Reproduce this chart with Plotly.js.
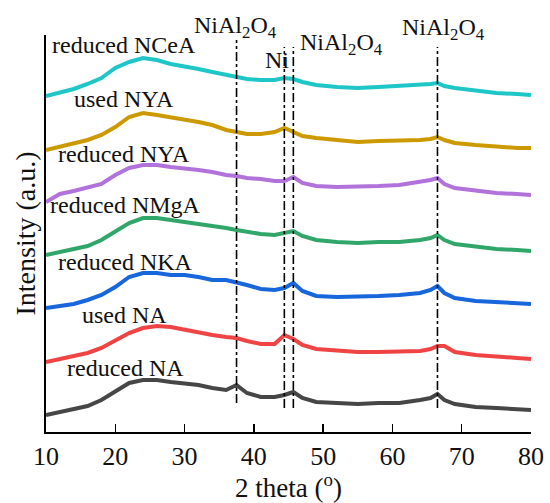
<!DOCTYPE html>
<html>
<head>
<meta charset="utf-8">
<script src="https://cdn.plot.ly/plotly-3.0.1.min.js"></script>
<style>html,body{margin:0;padding:0;background:#fff;}#chart{width:550px;height:503px;}</style>
</head>
<body>
<div id="chart"></div>
<script>
// 2 theta (degrees)
var twoTheta = [10,12,14,16,18,20,22,24,26,28,30,32,34,36,37.5,39,41,43,44.4,45.7,47,49,52,55,58,61,64,65.5,66.5,67.5,69,72,75,78,80];

// Stacked intensities (a.u.)
var reducedNCeA = [336,339,343,348,354,364,370,374,372,368,366,363,360,357,355,353,352,352,354,353,350,347,345,344,345,346,348,348,349,346,344,341,339,338,337];
var usedNYA     = [282,285,288,292,297,305,315,319,317,315,312,310,307,302,300,298,298,300,304,300,296,294,292,290,291,291,292,293,295,292,289,287,285,284,284];
var reducedNYA  = [230,238,241,244,248,257,264,267,267,265,264,262,260,257,256,254,253,251,251,255,249,246,245,245,246,247,250,252,254,248,244,241,239,238,237];
var reducedNMgA = [177,180,183,186,192,200,209,214,214,212,210,209,207,204,202,200,198,197,199,201,196,192,190,189,190,190,192,194,197,192,188,185,183,182,181];
var reducedNKA  = [124,126,128,132,137,145,155,159,159,157,157,155,152,152,150,147,143,142,144,149,141,136,135,135,136,137,139,142,146,139,134,131,130,129,128];
var usedNA      = [70,73,76,79,84,92,99,104,106,105,102,100,97,95,94,91,88,88,97,93,87,83,81,80,80,80,81,83,86,86,80,77,75,74,73];
var reducedNA   = [17,20,23,26,32,40,49,52,52,50,49,47,44,42,47,39,35,35,37,40,34,30,29,28,29,29,32,34,38,32,28,25,24,23,22];

var seriesNames = ["reduced NCeA","used NYA","reduced NYA","reduced NMgA","reduced NKA","used NA","reduced NA"];
var seriesData = [reducedNCeA, usedNYA, reducedNYA, reducedNMgA, reducedNKA, usedNA, reducedNA];
var seriesColors = ["#1fc6c8","#cc9a00","#b172dc","#30a66a","#1766dc","#f04444","#464646"];

// Reference peak positions (2 theta)
var peakPos = [37.5, 44.4, 45.7, 66.5];
var peakLabels = ["NiAl<sub>2</sub>O<sub>4</sub>","Ni","NiAl<sub>2</sub>O<sub>4</sub>","NiAl<sub>2</sub>O<sub>4</sub>"];
var xTicks = [10,20,30,40,50,60,70,80];

var FONT = "Liberation Serif";
var YMAX = 397;

var traces = seriesData.map(function(d, i){
  return {x: twoTheta, y: d, type: "scatter", mode: "lines", name: seriesNames[i],
          line: {color: seriesColors[i], width: 4}, hoverinfo: "skip"};
});

var labelPos = [[21.3,387],[21.2,333],[21.3,278],[21.5,227],[21.5,170],[21.4,117],[21.5,64]];
var annotations = seriesNames.map(function(n, i){
  return {x: labelPos[i][0], y: labelPos[i][1] / YMAX, xref: "x", yref: "paper", text: n, showarrow: false,
          xanchor: "center", yanchor: "middle", font: {family: FONT, size: 24, color: "#111"}};
});
var peakLabelPos = [[37.4,405],[43.3,372],[52.6,388],[67.3,403]];
peakLabels.forEach(function(t, i){
  annotations.push({x: peakLabelPos[i][0], y: peakLabelPos[i][1] / YMAX, xref: "x", yref: "paper", text: t, showarrow: false,
          xanchor: "center", yanchor: "middle", font: {family: FONT, size: 24, color: "#111"}});
});

var lineSpans = [[29,392],[24,385],[24,385],[24,385]];
var shapes = peakPos.map(function(p, i){
  return {type: "line", xref: "x", yref: "y", x0: p, x1: p, y0: lineSpans[i][0], y1: lineSpans[i][1],
          line: {color: "#000", width: 1.6, dash: "dashdot"}};
});

var layout = {
  width: 550, height: 503,
  margin: {l: 46, r: 19, t: 35, b: 71},
  paper_bgcolor: "#fff", plot_bgcolor: "#fff",
  showlegend: false,
  font: {family: FONT, color: "#111"},
  xaxis: {
    range: [10, 80], tickvals: xTicks, ticktext: xTicks.map(String),
    ticks: "inside", ticklen: 8, tickwidth: 1.5, tickcolor: "#000",
    showline: true, linecolor: "#000", linewidth: 1.8, mirror: false,
    showgrid: false, zeroline: false,
    tickfont: {family: FONT, size: 26, color: "#111"},
    title: {text: "2 theta (<sup>o</sup>)", font: {family: FONT, size: 27, color: "#111"}, standoff: 5}
  },
  yaxis: {
    range: [0, YMAX], showticklabels: false, ticks: "",
    showline: true, linecolor: "#000", linewidth: 1.8,
    showgrid: false, zeroline: false,
    title: {text: "Intensity (a.u.)", font: {family: FONT, size: 28, color: "#111"}, standoff: 0}
  },
  annotations: annotations,
  shapes: shapes
};

Plotly.newPlot("chart", traces, layout, {displayModeBar: false, staticPlot: true});
</script>
</body>
</html>
